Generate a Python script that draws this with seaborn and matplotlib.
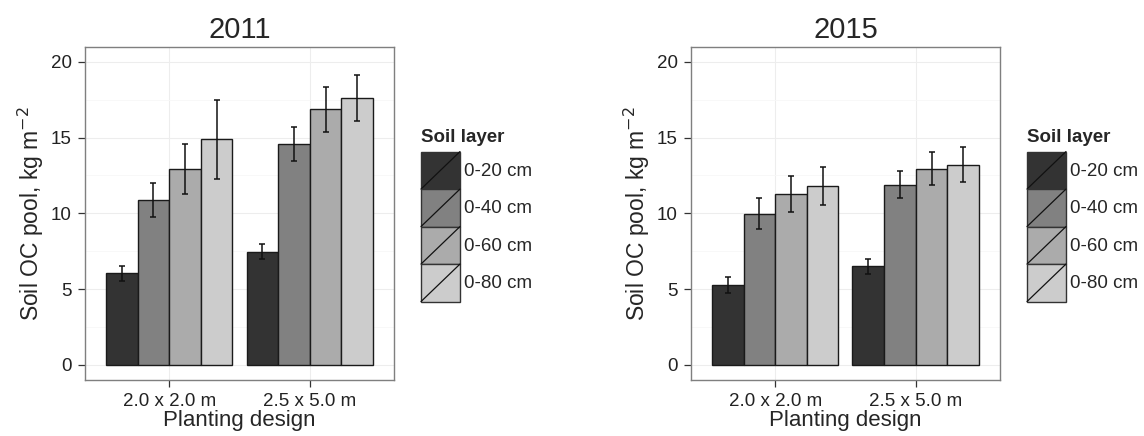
import numpy as np
import pandas as pd
import seaborn as sns
import matplotlib
matplotlib.use("Agg")
import matplotlib.pyplot as plt
from matplotlib.patches import Rectangle, Patch
from matplotlib.lines import Line2D
from matplotlib.ticker import MultipleLocator

designs = ["2.0 x 2.0 m", "2.5 x 5.0 m"]
layers = ["0-20 cm", "0-40 cm", "0-60 cm", "0-80 cm"]
years = ["2011", "2015"]

# mean soil OC pool per design (rows) and layer (cols)
mean_2011 = [[6.05, 10.87, 12.96, 14.9],
             [7.47, 14.58, 16.87, 17.6]]
err_2011 = [[0.5, 1.12, 1.65, 2.6],
            [0.5, 1.1, 1.5, 1.52]]
mean_2015 = [[5.27, 9.99, 11.29, 11.8],
             [6.52, 11.9, 12.96, 13.2]]
err_2015 = [[0.53, 1.0, 1.17, 1.23],
            [0.5, 0.87, 1.1, 1.15]]

colors = ["#333333", "#818181", "#ababab", "#cccccc"]


def make_df(means, errs):
    rows = []
    for i, d in enumerate(designs):
        for j, l in enumerate(layers):
            rows.append({"design": d, "layer": l, "value": means[i][j], "err": errs[i][j]})
    return pd.DataFrame(rows)


class DiagHandler:
    # legend key: filled square with a diagonal stroke, like ggplot's bar keys
    def legend_artist(self, legend, orig_handle, fontsize, handlebox):
        x0, y0 = -handlebox.xdescent, -handlebox.ydescent
        w, h = handlebox.width, handlebox.height
        tr = handlebox.get_transform()
        rect = Rectangle((x0, y0), w, h, facecolor=orig_handle.get_facecolor(),
                         edgecolor="#333333", lw=1.0, transform=tr)
        line = Line2D([x0, x0 + w], [y0, y0 + h], color="#111111", lw=0.9, transform=tr)
        handlebox.add_artist(rect)
        handlebox.add_artist(line)
        return rect


sns.set_theme(style="white")
plt.rcParams["font.family"] = ["Liberation Sans", "DejaVu Sans"]

fig = plt.figure(figsize=(11.44, 4.36), dpi=100)
ax_pos = [[0.0743, 0.1284, 0.2701, 0.7645],
          [0.6040, 0.1284, 0.2701, 0.7645]]
leg_fs = 13.5
bpad = 0.35
pad_px = bpad * leg_fs * 100 / 72
leg_pos = [((421 - pad_px) / 1144, 1 - (129 - pad_px) / 436),
           ((1027 - pad_px) / 1144, 1 - (129 - pad_px) / 436)]

for k, (year, means, errs) in enumerate([(years[0], mean_2011, err_2011),
                                         (years[1], mean_2015, err_2015)]):
    df = make_df(means, errs)
    ax = fig.add_axes(ax_pos[k])
    sns.barplot(data=df, x="design", y="value", hue="layer", order=designs,
                hue_order=layers, palette=colors, width=0.9, gap=0,
                edgecolor="#1a1a1a", linewidth=1.0, errorbar=None,
                legend=False, ax=ax, zorder=2)

    # error bars placed on the drawn bars
    bars = [p for p in ax.patches if isinstance(p, Rectangle)]
    for ci, d in enumerate(designs):
        group = sorted([b for b in bars if round(b.get_x() + b.get_width() / 2) == ci],
                       key=lambda b: b.get_x())
        for j, b in enumerate(group):
            e = df[(df.design == d) & (df.layer == layers[j])]["err"].iloc[0]
            ax.errorbar(b.get_x() + b.get_width() / 2, b.get_height(), yerr=e,
                        fmt="none", ecolor="#111111", elinewidth=1.1,
                        capsize=2.5, capthick=1.1, zorder=3)

    ax.set_xlim(-0.6, 1.6)
    ax.set_ylim(-1, 21)
    ax.set_yticks([0, 5, 10, 15, 20])
    ax.yaxis.set_minor_locator(MultipleLocator(2.5))
    ax.grid(which="major", axis="both", color="#ededed", lw=0.8, zorder=0)
    ax.grid(which="minor", axis="y", color="#f7f7f7", lw=0.6, zorder=0)
    ax.set_axisbelow(True)
    ax.tick_params(axis="both", which="major", length=5, width=0.9,
                   color="#333333", labelsize=13.5, labelcolor="#222222", pad=4.5,
                   bottom=True, left=True)
    ax.tick_params(axis="x", which="major", pad=4.5)
    ax.tick_params(axis="both", which="minor", length=0)
    for s in ax.spines.values():
        s.set_color("#7f7f7f")
        s.set_linewidth(1.0)

    ax.set_title(year, fontsize=21, pad=6)
    ax.set_xlabel("Planting design", fontsize=16, labelpad=0)
    ax.set_ylabel("Soil OC pool, kg m$^{-2}$", fontsize=16.5, labelpad=3.5)

    handles = [Patch(facecolor=c) for c in colors]
    leg = fig.legend(handles, layers, handler_map={Patch: DiagHandler()},
                     loc="upper left", bbox_to_anchor=leg_pos[k],
                     title="Soil layer", frameon=False, fontsize=leg_fs,
                     handlelength=2.08, handleheight=2.7, labelspacing=0,
                     handletextpad=0.2, borderpad=bpad, borderaxespad=0,
                     alignment="left")
    leg.get_title().set_fontweight("bold")
    leg.get_title().set_fontsize(13.5)
    leg._legend_box.sep = 4  # gap between title and keys

fig.savefig("out.png", dpi=100)
